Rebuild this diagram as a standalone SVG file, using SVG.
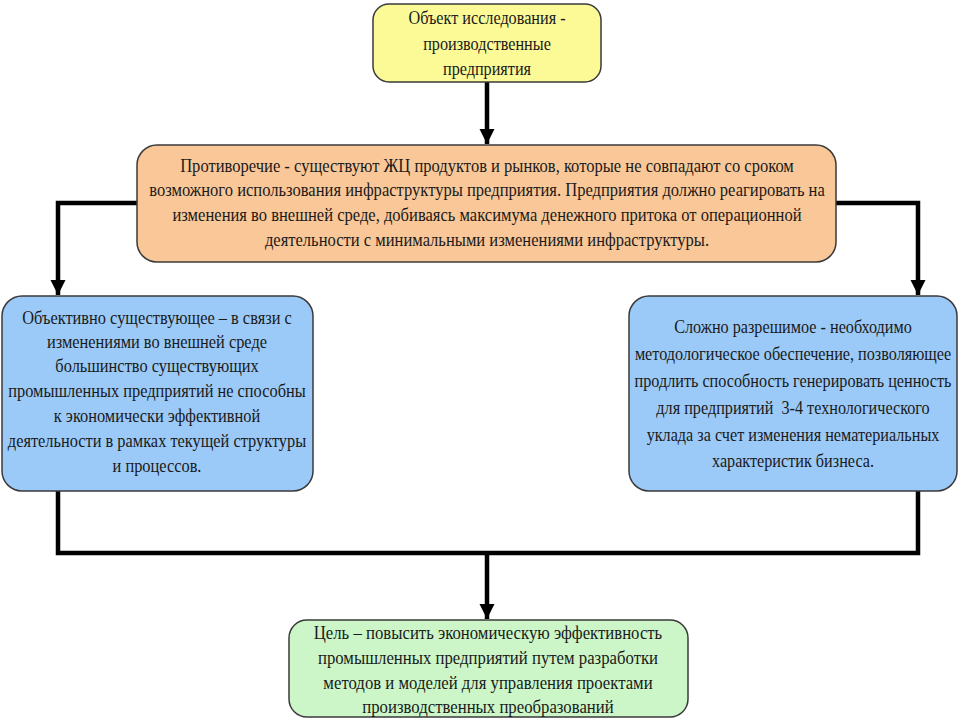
<svg xmlns="http://www.w3.org/2000/svg" width="960" height="720" viewBox="0 0 960 720">
<defs>
<style>
.box{stroke:#3a3a3a;stroke-width:1.5}
.yellow{fill:#FBFA97}
.orange{fill:#FAC898}
.blue{fill:#9CCAF8}
.green{fill:#CCF6C8}
text{font-family:"Liberation Serif","Times New Roman",serif;font-size:18px;fill:#1a1a1a;text-anchor:middle;dominant-baseline:central}
.conn{fill:none;stroke:#000;stroke-width:4.5;stroke-linejoin:miter}
</style>
<marker id="arr" viewBox="0 0 10 10" refX="10" refY="5" markerWidth="3.4" markerHeight="3.4" markerUnits="strokeWidth" orient="auto">
<path d="M0,0 L10,5 L0,10 Z" fill="#000"/>
</marker>
</defs>
<rect width="960" height="720" fill="#fff"/>
<g id="connectors">
<path class="conn" d="M487,82 V144" marker-end="url(#arr)"/>
<path class="conn" d="M137,203 H58 V295" marker-end="url(#arr)"/>
<path class="conn" d="M836,203 H918 V295" marker-end="url(#arr)"/>
<path class="conn" d="M58,491 V553 H918 V491"/>
<path class="conn" d="M487,553 V619" marker-end="url(#arr)"/>
</g>
<g id="n1">
<rect class="box yellow" x="373" y="4" width="228" height="78" rx="16"/>
<g transform="translate(487 0) scale(0.9 1)">
<text x="0" y="18">Объект исследования -</text>
<text x="0" y="44">производственные</text>
<text x="0" y="69">предприятия</text>
</g>
</g>
<g id="n2">
<rect class="box orange" x="137" y="145" width="699" height="117" rx="20"/>
<g transform="translate(487 0) scale(0.92 1)">
<text x="0" y="166">Противоречие - существуют ЖЦ продуктов и рынков, которые не совпадают со сроком</text>
<text x="0" y="190">возможного использования инфраструктуры предприятия. Предприятия должно реагировать на</text>
<text x="0" y="215">изменения во внешней среде, добиваясь максимума денежного притока от операционной</text>
<text x="0" y="240">деятельности с минимальными изменениями инфраструктуры.</text>
</g>
</g>
<g id="n3">
<rect class="box blue" x="2" y="296" width="311" height="195" rx="20"/>
<g transform="translate(157 0) scale(0.91 1)">
<text x="0" y="318">Объективно существующее – в связи с</text>
<text x="0" y="342">изменениями во внешней среде</text>
<text x="0" y="366">большинство существующих</text>
<text x="0" y="391">промышленных предприятий не способны</text>
<text x="0" y="416">к экономически эффективной</text>
<text x="0" y="441">деятельности в рамках текущей структуры</text>
<text x="0" y="466">и процессов.</text>
</g>
</g>
<g id="n4">
<rect class="box blue" x="629" y="296" width="328" height="195" rx="20"/>
<g transform="translate(793 0) scale(0.9 1)">
<text x="0" y="327">Сложно разрешимое - необходимо</text>
<text x="0" y="354">методологическое обеспечение, позволяющее</text>
<text x="0" y="381">продлить способность генерировать ценность</text>
<text x="0" y="408" xml:space="preserve">для предприятий  3-4 технологического</text>
<text x="0" y="435">уклада за счет изменения нематериальных</text>
<text x="0" y="461">характеристик бизнеса.</text>
</g>
</g>
<g id="n5">
<rect class="box green" x="289" y="620" width="399" height="97" rx="18"/>
<g transform="translate(488 0) scale(0.93 1)">
<text x="0" y="633">Цель – повысить экономическую эффективность</text>
<text x="0" y="658">промышленных предприятий путем разработки</text>
<text x="0" y="683">методов и моделей для управления проектами</text>
<text x="0" y="707">производственных преобразований</text>
</g>
</g>
</svg>
